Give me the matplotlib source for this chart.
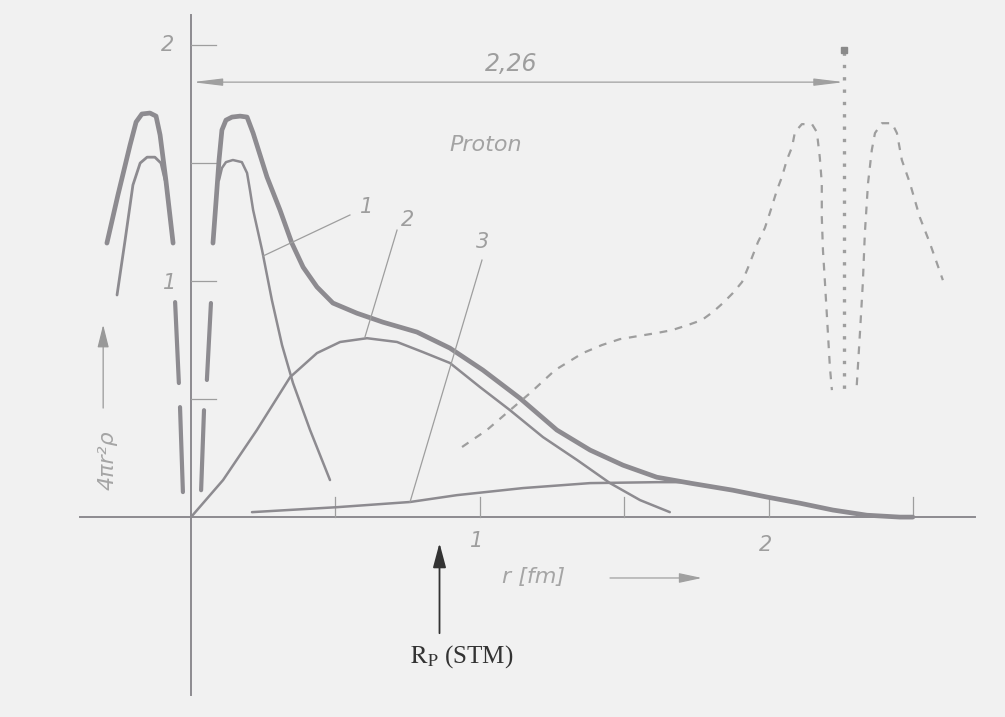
import numpy as np
import matplotlib
matplotlib.use('Agg')
import matplotlib.pyplot as plt

# radial distributions 4*pi*r^2*rho, r in fm
# total (thick) curve
r_tot = [0.076, 0.087, 0.097, 0.107, 0.121, 0.142, 0.170, 0.194, 0.215, 0.239, 0.263, 0.308,
         0.349, 0.388, 0.436, 0.491, 0.574, 0.664, 0.782, 0.896, 1.010, 1.138, 1.266, 1.381,
         1.495, 1.612, 1.727, 1.875, 1.993, 2.107, 2.221, 2.339, 2.453, 2.498]
v_tot = [1.161, 1.343, 1.513, 1.640, 1.682, 1.695, 1.699, 1.695, 1.627, 1.534, 1.441, 1.301,
         1.161, 1.059, 0.975, 0.907, 0.864, 0.826, 0.784, 0.716, 0.623, 0.504, 0.369, 0.284,
         0.220, 0.169, 0.144, 0.114, 0.085, 0.059, 0.030, 0.008, 0.0, 0.0]
# component 1 (core)
r_1 = [0.097, 0.107, 0.121, 0.145, 0.176, 0.194, 0.204, 0.215, 0.246, 0.280, 0.315, 0.353, 0.412, 0.481]
v_1 = [1.428, 1.479, 1.504, 1.513, 1.504, 1.458, 1.386, 1.301, 1.131, 0.919, 0.729, 0.568, 0.369, 0.157]
# component 2
r_2 = [0.0, 0.111, 0.228, 0.343, 0.436, 0.516, 0.609, 0.713, 0.803, 0.896, 1.000, 1.104,
       1.218, 1.336, 1.450, 1.554, 1.657]
v_2 = [0.0, 0.157, 0.369, 0.593, 0.695, 0.742, 0.758, 0.742, 0.699, 0.653, 0.551, 0.453,
       0.339, 0.242, 0.144, 0.072, 0.021]
# component 3
r_3 = [0.211, 0.505, 0.758, 0.920, 1.149, 1.381, 1.612, 1.727]
v_3 = [0.021, 0.042, 0.064, 0.093, 0.123, 0.144, 0.148, 0.148]

# broken-off peaks left of the axis
r_outer = [-0.291, -0.253, -0.211, -0.190, -0.170, -0.142, -0.121, -0.107, -0.087, -0.062]
v_outer = [1.161, 1.364, 1.576, 1.674, 1.708, 1.712, 1.699, 1.619, 1.428, 1.161]
r_inner = [-0.256, -0.228, -0.201, -0.176, -0.152, -0.125, -0.104, -0.090]
v_inner = [0.941, 1.174, 1.407, 1.500, 1.525, 1.525, 1.500, 1.428]

# break marks along the axis
break_r = [(-0.055, -0.042), (0.069, 0.055), (-0.038, -0.028), (0.045, 0.035)]
break_v = [(0.911, 0.568), (0.907, 0.581), (0.466, 0.106), (0.453, 0.114)]

# proton curve (dashed)
r_pr = [0.938, 1.024, 1.104, 1.173, 1.260, 1.356, 1.422, 1.484, 1.547, 1.612, 1.664, 1.720,
        1.768, 1.806, 1.841, 1.875, 1.907, 1.927, 1.962, 1.986, 2.003, 2.028, 2.045, 2.062,
        2.080, 2.090, 2.114, 2.149, 2.166, 2.176, 2.183, 2.183, 2.187, 2.194, 2.201, 2.211, 2.218]
v_pr = [0.297, 0.369, 0.453, 0.525, 0.623, 0.695, 0.729, 0.754, 0.767, 0.780, 0.792, 0.814,
        0.835, 0.869, 0.907, 0.949, 0.996, 1.055, 1.165, 1.225, 1.288, 1.386, 1.441, 1.513,
        1.568, 1.631, 1.665, 1.665, 1.631, 1.525, 1.415, 1.271, 1.131, 0.992, 0.847, 0.636, 0.538]
r_pr2 = [2.304, 2.315, 2.325, 2.332, 2.343, 2.356, 2.367, 2.391, 2.426, 2.443, 2.460, 2.488,
         2.522, 2.557, 2.602]
v_pr2 = [0.559, 0.780, 0.992, 1.203, 1.415, 1.555, 1.627, 1.669, 1.669, 1.627, 1.513, 1.415,
         1.271, 1.161, 1.004]

r_cut = 2.26
r_stm = 0.86
xticks = [0.5, 1.0, 1.5, 2.0, 2.5]
yticks = [0.5, 1.0, 1.5, 2.0]

gray = '#8d8b90'
light = '#9e9e9e'

fig = plt.figure(figsize=(10.05, 7.17), dpi=100)
fig.patch.set_facecolor('#f1f1f1')
ax = fig.add_axes([0, 0, 1, 1])
ax.set_facecolor('#f1f1f1')
ax.set_xlim(-0.661, 2.817)
ax.set_ylim(-0.847, 2.191)
ax.axis('off')

# axes
ax.plot([-0.384, 2.713], [0, 0], color=gray, lw=1.4)
ax.plot([0, 0], [-0.754, 2.127], color=gray, lw=1.4)
for t in xticks:
    ax.plot([t, t], [0, 0.085], color=light, lw=0.9)
for t in yticks:
    ax.plot([0, 0.085], [t, t], color=light, lw=0.9)
ax.text(-0.08, 2.0, '2', color=light, fontsize=15, style='italic', ha='center', va='center')
ax.text(-0.075, 0.99, '1', color=light, fontsize=15, style='italic', ha='center', va='center')
ax.text(0.99, -0.10, '1', color=light, fontsize=15, style='italic', ha='center', va='center')
ax.text(1.99, -0.12, '2', color=light, fontsize=15, style='italic', ha='center', va='center')

# curves
kw = dict(solid_capstyle='round', solid_joinstyle='round')
ax.plot(r_tot, v_tot, color=gray, lw=3.4, **kw)
ax.plot(r_1, v_1, color=gray, lw=1.8, **kw)
ax.plot(r_2, v_2, color=gray, lw=1.8, **kw)
ax.plot(r_3, v_3, color=gray, lw=1.8, **kw)
ax.plot(r_outer, v_outer, color=gray, lw=3.4, **kw)
ax.plot(r_inner, v_inner, color=gray, lw=2.0, **kw)
for rr, vv in zip(break_r, break_v):
    ax.plot(rr, vv, color=gray, lw=3.0, **kw)

# proton
ax.plot(r_pr, v_pr, color=light, lw=1.6, ls=(0, (3.5, 3.5)))
ax.plot(r_pr2, v_pr2, color=light, lw=1.6, ls=(0, (3.5, 3.5)))
ax.plot([r_cut, r_cut], [1.97, 0.53], color=light, lw=2.4, ls=(0, (1, 2.7)))
ax.plot([r_cut], [1.979], marker='s', ms=4, color='#8a8a8a')
ax.text(1.021, 1.576, 'Proton', color='#a3a3a3', fontsize=16, style='italic', ha='center', va='center')

# dimension line
ax.annotate('', xy=(0.005, 1.843), xytext=(r_cut, 1.843),
            arrowprops=dict(arrowstyle='<|-|>,head_length=1.8,head_width=0.22',
                            lw=0.9, color='#a0a0a0', shrinkA=0, shrinkB=0))
ax.text(1.107, 1.92, '2,26', color=light, fontsize=17, style='italic', ha='center', va='center')

# leader lines and labels
ax.plot([0.550, 0.249], [1.280, 1.106], color=light, lw=0.9)
ax.text(0.609, 1.315, '1', color=light, fontsize=15, style='italic', ha='center', va='center')
ax.plot([0.713, 0.602], [1.216, 0.763], color=light, lw=0.9)
ax.text(0.750, 1.26, '2', color=light, fontsize=15, style='italic', ha='center', va='center')
ax.plot([1.007, 0.758], [1.089, 0.064], color=light, lw=0.9)
ax.text(1.010, 1.165, '3', color=light, fontsize=15, style='italic', ha='center', va='center')

# axis labels
ax.text(1.076, -0.254, 'r [fm]', color='#a5a5a5', fontsize=16, style='italic', ha='left', va='center')
ax.annotate('', xy=(1.768, -0.258), xytext=(1.45, -0.258),
            arrowprops=dict(arrowstyle='-|>,head_length=1.4,head_width=0.3',
                            lw=0.9, color='#a0a0a0', shrinkA=0, shrinkB=0))
ax.text(-0.290, 0.24, '4\u03c0r\u00b2\u03c1', color='#a5a5a5', fontsize=16, style='italic',
        rotation=90, ha='center', va='center')
ax.annotate('', xy=(-0.304, 0.815), xytext=(-0.304, 0.462),
            arrowprops=dict(arrowstyle='-|>,head_length=1.4,head_width=0.35',
                            lw=0.9, color='#999999', shrinkA=0, shrinkB=0))

# r.m.s. radius from STM
plt.rcParams['mathtext.fontset'] = 'stix'
ax.annotate('', xy=(r_stm, -0.11), xytext=(r_stm, -0.492),
            arrowprops=dict(arrowstyle='-|>,head_length=1.5,head_width=0.4',
                            lw=1.3, color='#333333', shrinkA=0, shrinkB=0))
ax.text(0.938, -0.59, r'$\mathrm{R_P}$ (STM)', color='#333333', fontsize=18,
        family='Liberation Serif', ha='center', va='center')

plt.savefig('out.png', dpi=100, facecolor=fig.get_facecolor())
